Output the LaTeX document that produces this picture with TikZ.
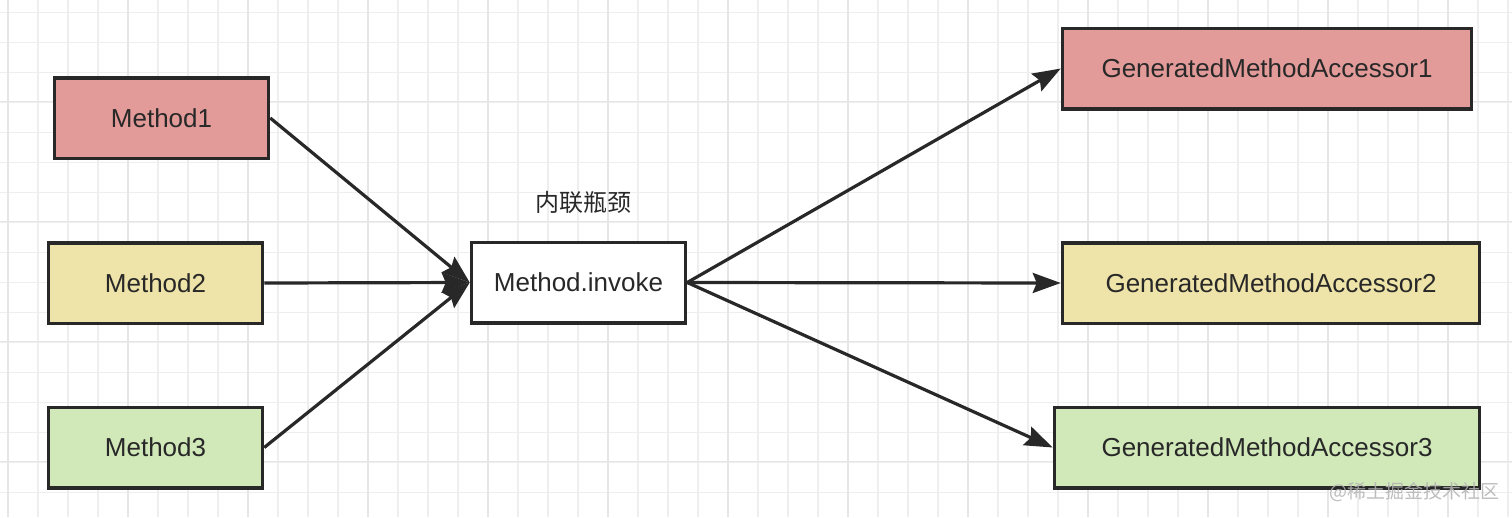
\documentclass[tikz,border=0pt]{standalone}
\usepackage{fontspec}
\setmainfont{Liberation Sans}
\newfontfamily\cjk{Noto Sans CJK SC}
\usetikzlibrary{positioning,arrows.meta}

\definecolor{boxred}{RGB}{226,155,153}
\definecolor{boxyellow}{RGB}{238,227,168}
\definecolor{boxgreen}{RGB}{209,232,185}
\definecolor{ink}{RGB}{40,40,40}
\definecolor{gridminor}{RGB}{238,238,238}
\definecolor{gridmajor}{RGB}{230,230,230}

\begin{document}
\begin{tikzpicture}[x=1pt, y=-1pt,
    box/.style={draw=ink, line width=3.5pt, minimum height=80.5pt, inner sep=0pt,
        text=ink, font=\fontsize{26}{30}\selectfont},
    link/.style={draw=ink, line width=3.2pt, -{Stealth[length=28pt,width=20pt,inset=4pt]}}]
    \useasboundingbox (0,0) rectangle (1512,517);
    \fill[white] (0,0) rectangle (1512,517);

    % grid
    \foreach \x in {8,38,...,1508} \draw[gridminor, line width=1.2pt] (\x,0) -- (\x,517);
    \foreach \y in {12.7,42.7,...,512.7} \draw[gridminor, line width=1.2pt] (0,\y) -- (1512,\y);
    \foreach \x in {8,128,...,1448} \draw[gridmajor, line width=1.5pt] (\x,0) -- (\x,517);
    \foreach \y in {101.7,221.7,341.7,461.7} \draw[gridmajor, line width=1.5pt] (0,\y) -- (1512,\y);

    \node[box, fill=boxred, minimum width=214pt] (m1) at (161.5,118) {Method1};
    \node[box, fill=boxyellow, minimum width=214pt] (m2) at (155.5,283) {Method2};
    \node[box, fill=boxgreen, minimum width=214pt] (m3) at (155.5,447.5) {Method3};

    \node[box, fill=white, minimum width=214pt] (invoke) at (578.5,282.5) {Method.invoke};
    \node[text=ink, font=\cjk\fontsize{24}{28}\selectfont] (neck) at (583,202) {内联瓶颈};

    \node[box, fill=boxred, minimum width=409pt] (g1) at (1267,68.5) {GeneratedMethodAccessor1};
    \node[box, fill=boxyellow, minimum width=417pt] (g2) at (1271,283) {GeneratedMethodAccessor2};
    \node[box, fill=boxgreen, minimum width=425pt] (g3) at (1267,447.5) {GeneratedMethodAccessor3};

    \draw[link] (m1.east) -- (invoke.west);
    \draw[link] (m2.east) -- (invoke.west);
    \draw[link] (m3.east) -- (invoke.west);

    \draw[link] (invoke.east) -- (g1.west);
    \draw[link] (invoke.east) -- (g2.west);
    \draw[link] (invoke.east) -- (g3.west);

    \node[text=gray!60, opacity=0.85, font=\cjk\fontsize{19}{22}\selectfont] (mark) at (1414,492) {@稀土掘金技术社区};
\end{tikzpicture}
\end{document}
